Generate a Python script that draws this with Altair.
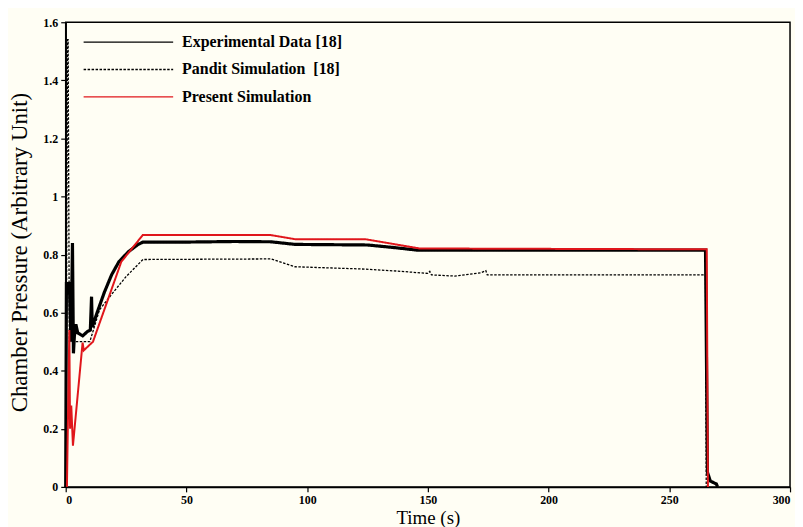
import altair as alt
import pandas as pd

# Experimental data [18]
exp_t = [0, 0.3, 1.5, 2.2, 2.8, 3.2, 3.6, 4.2, 5, 7, 9, 10.2, 10.7, 11.0, 13, 16, 19, 22, 26, 30, 32,
         50, 70, 85, 95, 110, 125, 135, 146, 180, 220, 265, 265.8, 267, 269.5, 270]
exp_v = [0, 0.70, 0.70, 0.50, 0.84, 0.46, 0.52, 0.56, 0.53, 0.52, 0.535, 0.54, 0.655, 0.55, 0.60, 0.67,
         0.73, 0.775, 0.81, 0.835, 0.843, 0.843, 0.845, 0.844, 0.835, 0.834, 0.833, 0.825, 0.815, 0.815,
         0.815, 0.815, 0.05, 0.02, 0.01, 0]

# Pandit simulation [18]
pan_t = [0, 0.8, 1.0, 1.5, 10, 14, 19.5, 25, 32, 85, 95, 124, 137.6, 150, 150.8, 151.5, 161, 172, 174,
         174.6, 265, 265.3]
pan_v = [0, 1.54, 1.54, 0.50, 0.50, 0.61, 0.668, 0.724, 0.783, 0.785, 0.758, 0.750, 0.743, 0.735, 0.742,
         0.730, 0.726, 0.737, 0.745, 0.730, 0.730, 0]

# Present simulation
pre_t = [0.5, 1.5, 1.8, 2.3, 3.0, 6.6, 7.0, 7.5, 11.3, 22.3, 23.0, 31.9, 85, 95, 124, 146.6, 265.5, 266]
pre_v = [0, 0.54, 0.20, 0.28, 0.142, 0.462, 0.497, 0.47, 0.50, 0.758, 0.775, 0.867, 0.867, 0.853, 0.853,
         0.821, 0.818, 0]

names = ["Experimental Data [18]", "Pandit Simulation\u00a0\u00a0[18]", "Present Simulation"]
x_ticks = [0, 50, 100, 150, 200, 250, 300]
y_ticks = [0, 0.2, 0.4, 0.6, 0.8, 1.0, 1.2, 1.4, 1.6]

rows = []
for name, ts, vs in zip(names, [exp_t, pan_t, pre_t], [exp_v, pan_v, pre_v]):
    for i, (t, v) in enumerate(zip(ts, vs)):
        rows.append({"series": name, "t": t, "v": v, "order": i})
df = pd.DataFrame(rows)

FONT = "Liberation Serif"

legend = alt.Legend(
    title=None, orient="none", legendX=17, legendY=11, symbolType="stroke",
    symbolSize=8100, symbolStrokeWidth=1.4, labelFont=FONT, labelFontSize=16,
    labelFontWeight="bold", labelColor="black", labelOffset=8, rowPadding=9.5,
    clipHeight=18, padding=0, labelLimit=400,
)

x = alt.X("t:Q", scale=alt.Scale(domain=[0, 300], nice=False, zero=False),
          axis=alt.Axis(values=x_ticks, title="Time (s)", titleY=31, titleBaseline="middle"))
y = alt.Y("v:Q", scale=alt.Scale(domain=[0, 1.6], nice=False),
          axis=alt.Axis(values=y_ticks, title="Chamber Pressure (Arbitrary Unit)",
                        titleX=-46, titleY=231, titleBaseline="middle", titleAngle=270,
                        titleFontSize=23,
                        labelExpr="datum.value == 0 ? '0' : (datum.value == 1 ? '1' : format(datum.value, '.1f'))"))
color = alt.Color("series:N", scale=alt.Scale(domain=names, range=["black", "black", "#E0161B"]), legend=legend)
dash = alt.StrokeDash("series:N", scale=alt.Scale(domain=names, range=[[1, 0], [2.5, 1.5], [1, 0]]), legend=legend)

base = alt.Chart(df).encode(x=x, y=y, color=color, strokeDash=dash, order="order:Q")

pandit = base.transform_filter(alt.datum.series == names[1]).mark_line(strokeWidth=1.3)
experiment = base.transform_filter(alt.datum.series == names[0]).mark_line(strokeWidth=3.2)
present = base.transform_filter(alt.datum.series == names[2]).mark_line(strokeWidth=2.0)

chart = alt.layer(pandit, experiment, present).properties(
    width=728, height=467,
    autosize=alt.AutoSizeParams(type="none"),
    padding={"left": 58, "top": 13, "right": 5, "bottom": 40},
    background="#FFFEF4",
).configure_view(
    stroke="black", strokeWidth=1.5, fill="#FFFEF4"
).configure_axis(
    grid=False, domainColor="black", domainWidth=1.5, tickColor="black", tickSize=5, tickWidth=1.2,
    labelFont=FONT, labelFontSize=12, labelFontWeight="bold", labelColor="black", labelPadding=3,
    titleFont=FONT, titleFontSize=19, titleFontWeight="normal", titleColor="black",
)

chart.save("out.html", embed_options={"renderer": "svg", "actions": False})
